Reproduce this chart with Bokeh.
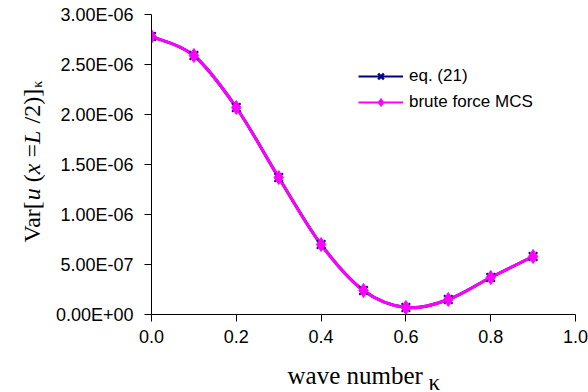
import math
import numpy as np
from bokeh.plotting import figure
from bokeh.layouts import row, column
from bokeh.models import (FixedTicker, CustomJSTickFormatter, Label, Legend, LegendItem,
                          ColumnDataSource, Range1d)
from bokeh.embed import file_html
from bokeh.resources import INLINE

# wave number and variance at the mid-point
kappa = [0.0, 0.1, 0.2, 0.3, 0.4, 0.5, 0.6, 0.7, 0.8, 0.9]
var_eq21 = [2.78e-6, 2.59e-6, 2.07e-6, 1.37e-6, 0.70e-6, 0.24e-6, 0.07e-6, 0.15e-6, 0.37e-6, 0.58e-6]
var_mcs = [2.78e-6, 2.59e-6, 2.07e-6, 1.37e-6, 0.70e-6, 0.24e-6, 0.07e-6, 0.15e-6, 0.37e-6, 0.58e-6]

x_ticks = [0.0, 0.2, 0.4, 0.6, 0.8, 1.0]
x_tick_labels = ["0.0", "0.2", "0.4", "0.6", "0.8", "1.0"]
y_ticks = [0.0, 0.5e-6, 1.0e-6, 1.5e-6, 2.0e-6, 2.5e-6, 3.0e-6]
y_tick_labels = ["0.00E+00", "5.00E-07", "1.00E-06", "1.50E-06", "2.00E-06", "2.50E-06", "3.00E-06"]

NAVY = "#000080"
MAGENTA = "#FF00FF"
SANS = "Liberation Sans"
SERIF = "Liberation Serif"

W, H = 588, 392
TITLE_W = 45            # strip holding the vertical axis title
XTITLE_H = 40           # strip holding the horizontal axis title
FRAME_L, FRAME_T = 151, 14
FRAME_W, FRAME_H = 424, 300
BORDER_R = W - FRAME_L - FRAME_W
BORDER_B = H - FRAME_T - FRAME_H


def blank_fig(**kw):
    f = figure(x_range=Range1d(0, 1), y_range=Range1d(0, 1),
               output_backend="svg", toolbar_location=None, tools="", **kw)
    f.axis.visible = False
    f.grid.visible = False
    f.outline_line_color = None
    f.background_fill_color = "white"
    f.border_fill_color = "white"
    return f


p = figure(frame_width=FRAME_W, frame_height=FRAME_H, width=W - TITLE_W, height=H - XTITLE_H,
           min_border_left=FRAME_L - TITLE_W, min_border_right=BORDER_R, min_border_top=FRAME_T,
           min_border_bottom=BORDER_B - XTITLE_H,
           x_range=Range1d(0, 1.0), y_range=Range1d(0, 3.0e-6),
           output_backend="svg", toolbar_location=None, tools="")
p.outline_line_color = None
p.xgrid.visible = False
p.ygrid.visible = False
p.background_fill_color = "white"
p.border_fill_color = "white"

lookup = """
let best = 0; let d = Infinity;
for (let i = 0; i < tvals.length; i++) {
  const e = Math.abs(tvals[i] - tick);
  if (e < d) { d = e; best = i; }
}
return tlabels[best];
"""
for ax, tv, tl in ((p.xaxis[0], x_ticks, x_tick_labels), (p.yaxis[0], y_ticks, y_tick_labels)):
    ax.ticker = FixedTicker(ticks=tv, minor_ticks=[])
    ax.formatter = CustomJSTickFormatter(args=dict(tvals=tv, tlabels=tl), code=lookup)
    ax.axis_line_color = "black"
    ax.axis_line_width = 1
    ax.major_tick_line_color = "black"
    ax.major_tick_line_width = 1
    ax.major_tick_in = 0
    ax.major_tick_out = 7
    ax.minor_tick_line_color = None
    ax.major_label_text_font = SANS
    ax.major_label_text_font_size = "18px"
    ax.major_label_text_color = "black"
p.xaxis.major_label_standoff = 8
p.yaxis.major_label_standoff = 11


def smooth_segments(xs, ys):
    """Cubic Bezier pieces through the points (Catmull-Rom style tangents)."""
    n = len(xs)
    seg = dict(x0=[], y0=[], x1=[], y1=[], cx0=[], cy0=[], cx1=[], cy1=[])
    for i in range(n - 1):
        xa, ya = xs[max(i - 1, 0)], ys[max(i - 1, 0)]
        xb, yb = xs[i], ys[i]
        xc, yc = xs[i + 1], ys[i + 1]
        xd, yd = xs[min(i + 2, n - 1)], ys[min(i + 2, n - 1)]
        seg["x0"].append(xb); seg["y0"].append(yb)
        seg["x1"].append(xc); seg["y1"].append(yc)
        seg["cx0"].append(xb + (xc - xa) / 6); seg["cy0"].append(yb + (yc - ya) / 6)
        seg["cx1"].append(xc - (xd - xb) / 6); seg["cy1"].append(yc - (yd - yb) / 6)
    return ColumnDataSource(seg)


p.bezier(x0="x0", y0="y0", x1="x1", y1="y1", cx0="cx0", cy0="cy0", cx1="cx1", cy1="cy1",
         source=smooth_segments(kappa, var_eq21), line_color=NAVY, line_width=3)
p.bezier(x0="x0", y0="y0", x1="x1", y1="y1", cx0="cx0", cy0="cy0", cx1="cx1", cy1="cy1",
         source=smooth_segments(kappa, var_mcs), line_color=MAGENTA, line_width=3)

p.scatter(kappa, var_eq21, marker="x", size=12, line_color=NAVY, line_width=2)
p.scatter(kappa, var_mcs, marker="diamond", size=14, fill_color=MAGENTA, line_color=MAGENTA)


# legend samples: a single NaN row, so nothing shows in the plot area
def nan_source():
    return ColumnDataSource(dict(x=np.array([np.nan]), y=np.array([np.nan])))


l_eq = p.line("x", "y", source=nan_source(), line_color=NAVY, line_width=2)
m_eq = p.scatter("x", "y", source=nan_source(), marker="x", size=13, line_color=NAVY, line_width=2.5)
l_mc = p.line("x", "y", source=nan_source(), line_color=MAGENTA, line_width=2)
m_mc = p.scatter("x", "y", source=nan_source(), marker="diamond", size=14,
                 fill_color=MAGENTA, line_color=MAGENTA)

legend = Legend(items=[LegendItem(label="eq. (21)", renderers=[l_eq, m_eq]),
                       LegendItem(label="brute force MCS", renderers=[l_mc, m_mc])],
                location=(207, 202), orientation="vertical",
                glyph_width=45, glyph_height=20, label_height=20, label_standoff=6,
                spacing=6, padding=0, margin=0,
                border_line_color=None, background_fill_alpha=0,
                label_text_font=SANS, label_text_font_size="17px", label_text_color="black")
p.add_layout(legend, "center")

# horizontal axis title strip (its frame lines up with the plot frame)
xt = blank_fig(width=W - TITLE_W, height=XTITLE_H, frame_width=FRAME_W,
               min_border_left=FRAME_L - TITLE_W, min_border_right=BORDER_R,
               min_border_top=0, min_border_bottom=0)
xt.add_layout(Label(x=287 - FRAME_L, y=17, x_units="screen", y_units="screen",
                    text="wave number", text_font=SERIF, text_font_size="25px",
                    text_color="black", text_baseline="alphabetic", text_align="left"))
xt.add_layout(Label(x=428 - FRAME_L, y=10, x_units="screen", y_units="screen", text="κ",
                    text_font=SERIF, text_font_size="23px", text_color="black",
                    text_baseline="alphabetic", text_align="left"))

# vertical axis title strip, written upward in pieces so the variables are italic
yt = blank_fig(width=TITLE_W, height=H, frame_height=FRAME_H,
               min_border_top=FRAME_T, min_border_bottom=BORDER_B,
               min_border_left=0, min_border_right=0)
# (text, style, advance in em, gap before in em)
pieces = [("Var[", "normal", 1.76, 0.0), ("u", "italic", 0.5, 0.0), ("(", "normal", 0.333, 0.25),
          ("x", "italic", 0.444, 0.0), ("=", "normal", 0.564, 0.25), ("L", "italic", 0.611, 0.0),
          ("/2)]", "normal", 1.444, 0.25)]
fs = 24
base_x = 31
pos = (FRAME_T + FRAME_H) - 242
for txt, style, adv, gap in pieces:
    pos += gap * fs
    yt.add_layout(Label(x=base_x, y=pos, x_units="screen", y_units="screen", text=txt,
                        angle=math.pi / 2, text_font=SERIF, text_font_style=style,
                        text_font_size=f"{fs}px", text_color="black",
                        text_baseline="alphabetic", text_align="left"))
    pos += adv * fs
yt.add_layout(Label(x=base_x + 6, y=pos + 1, x_units="screen", y_units="screen", text="κ",
                    angle=math.pi / 2, text_font=SERIF, text_font_size="14px", text_color="black",
                    text_baseline="alphabetic", text_align="left"))

layout = row(yt, column(p, xt, spacing=0), spacing=0)
open("out.html", "w").write(file_html(layout, INLINE))
